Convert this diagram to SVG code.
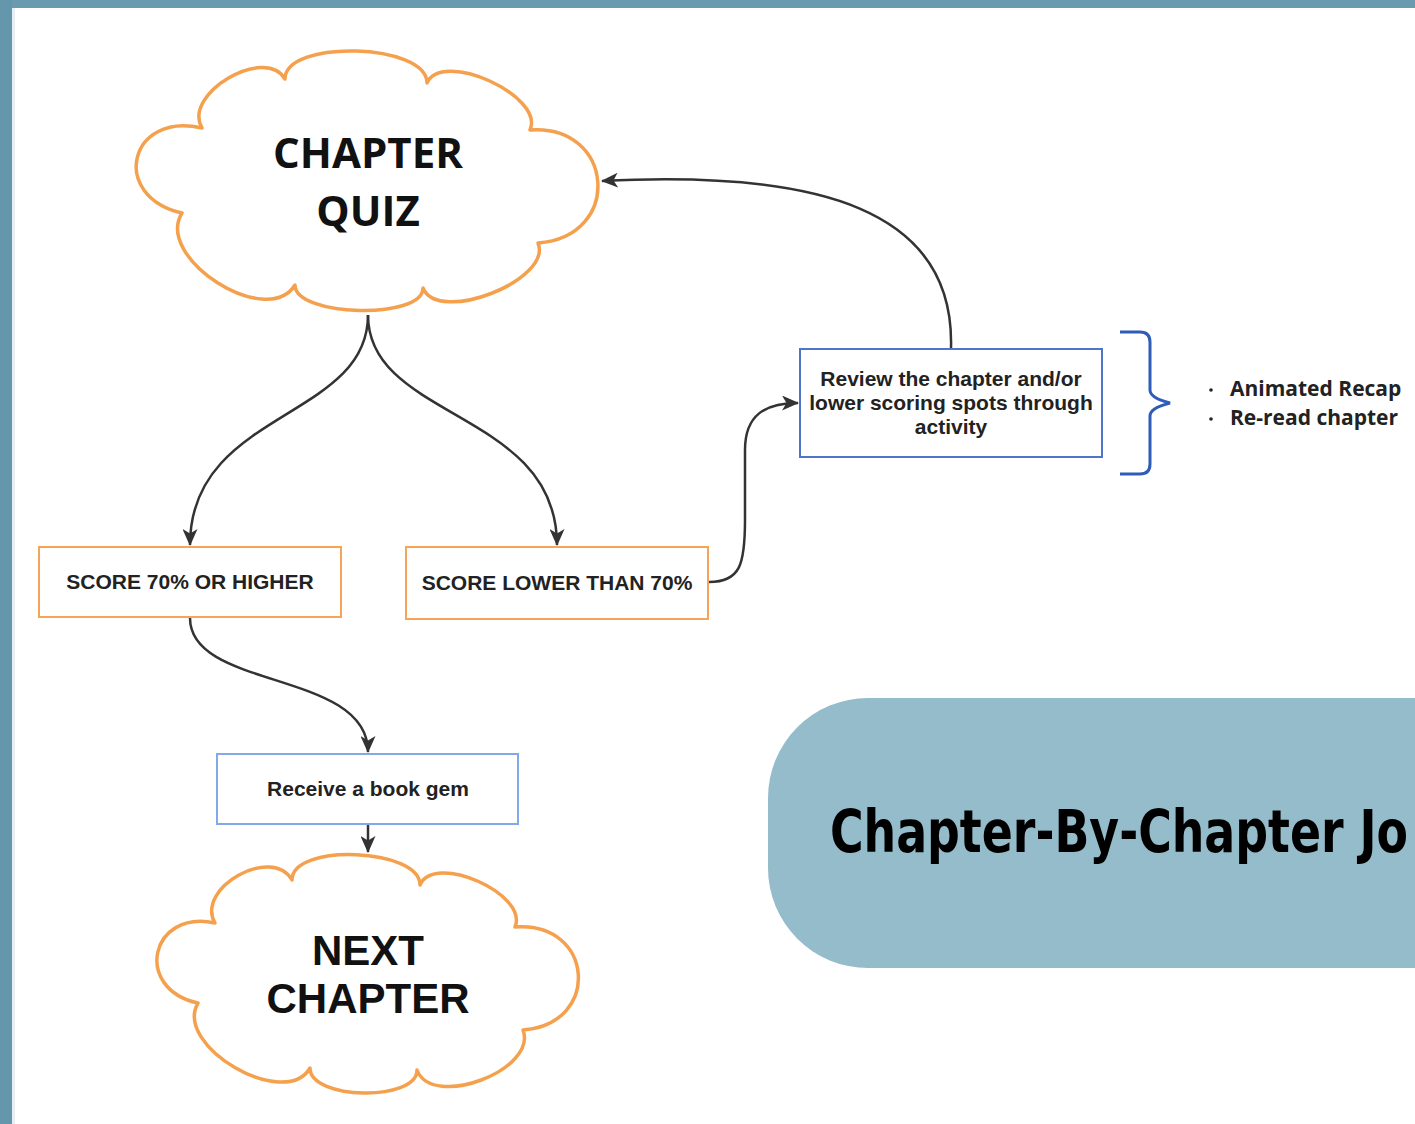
<svg xmlns="http://www.w3.org/2000/svg" width="1415" height="1124" viewBox="0 0 1415 1124">
<style>
.cloud{fill:#ffffff;stroke:#f5a04d;stroke-width:3.5;stroke-linejoin:round}
.obox{fill:#ffffff;stroke:#f5a55a;stroke-width:2}
.bbox{fill:#ffffff;stroke:#4f74c9;stroke-width:2}
.lbox{fill:#ffffff;stroke:#82a9e8;stroke-width:2}
.conn{fill:none;stroke:#333333;stroke-width:2.5}
.ct{font-family:"Open Sans","DejaVu Sans",sans-serif;font-weight:700;font-size:42px;fill:#111111;text-anchor:middle}
.ct2{font-family:"Liberation Sans",Arial,sans-serif;font-weight:700;font-size:42px;fill:#111111;text-anchor:middle}
.bt{font-family:"Liberation Sans",Arial,sans-serif;font-weight:700;font-size:21px;fill:#222222;text-anchor:middle}
.li{font-family:"Open Sans","DejaVu Sans",sans-serif;font-weight:700;font-size:21px;fill:#222222}
.title{font-family:"DejaVu Sans Condensed","DejaVu Sans",sans-serif;font-weight:700;font-size:58px;fill:#000000}
</style>
<defs>
<marker id="arr" markerUnits="userSpaceOnUse" markerWidth="17" markerHeight="15" viewBox="0 0 17 15" refX="16" refY="7.5" orient="auto">
<path d="M0,0 L17,7.5 L0,15 L4.5,7.5 z" fill="#333333"/>
</marker>
</defs>
<rect x="0" y="0" width="1415" height="1124" fill="#ffffff"/>
<rect x="0" y="0" width="1415" height="8" fill="#6a9ab0"/>
<rect x="0" y="0" width="12" height="1124" fill="#6496ac"/>
<rect x="12" y="8" width="3" height="1116" fill="#e8eef1"/>

<g id="title-banner">
<rect x="768" y="698" width="760" height="270" rx="100" ry="100" fill="#95bccb"/>
<text class="title" x="830" y="852" textLength="578" lengthAdjust="spacingAndGlyphs">Chapter-By-Chapter Jo</text>
</g>

<g id="connectors">
<path class="conn" d="M368,315 C368,420 190,410 190,545" marker-end="url(#arr)"/>
<path class="conn" d="M368,315 C368,420 557,410 557,545" marker-end="url(#arr)"/>
<path class="conn" d="M709,582 C740,582 745,565 745,520 L745,450 C745,415 765,403 798,403" marker-end="url(#arr)"/>
<path class="conn" d="M951,348 C955,210 820,170 602,181" marker-end="url(#arr)"/>
<path class="conn" d="M190,618 C190,690 368,670 368,752" marker-end="url(#arr)"/>
<path class="conn" d="M368,825 L368,852" marker-end="url(#arr)"/>
</g>

<g id="chapter-quiz">
<path class="cloud" d="M285,79 C285,39 427,43 427,83 C442,49 545,96 530,130 C615,124 623,237 538,243 C553,280 438,325 423,288 C423,320 295,317 295,285 C267,330 154,258 182,213 C109,196 129,111 202,128 C182,94 265,45 285,79 Z"/>
<text class="ct" x="368" y="168">CHAPTER</text>
<text class="ct" x="368" y="226">QUIZ</text>
</g>

<g id="score-high">
<rect class="obox" x="39" y="547" width="302" height="70"/>
<text class="bt" x="190" y="589" font-size="21.5">SCORE 70% OR HIGHER</text>
</g>

<g id="score-low">
<rect class="obox" x="406" y="547" width="302" height="72"/>
<text class="bt" x="557" y="590" font-size="21.5">SCORE LOWER THAN 70%</text>
</g>

<g id="review">
<rect class="bbox" x="800" y="349" width="302" height="108"/>
<text class="bt" x="951" y="386">Review the chapter and/or</text>
<text class="bt" x="951" y="410">lower scoring spots through</text>
<text class="bt" x="951" y="434">activity</text>
</g>

<g id="options">
<path d="M1120,332 L1140,332 Q1150,332 1150,342 L1150,390 Q1150,398 1170,403 Q1150,408 1150,416 L1150,464 Q1150,474 1140,474 L1120,474" fill="none" stroke="#2e5cb8" stroke-width="3"/>
<circle cx="1211" cy="390" r="1.8" fill="#222222"/>
<circle cx="1211" cy="419" r="1.8" fill="#222222"/>
<text class="li" x="1230" y="396">Animated Recap</text>
<text class="li" x="1230" y="425">Re-read chapter</text>
</g>

<g id="receive-gem">
<rect class="lbox" x="217" y="754" width="301" height="70"/>
<text class="bt" x="368" y="796">Receive a book gem</text>
</g>

<g id="next-chapter">
<path class="cloud" d="M292,880 C292,843 420,848 420,885 C434,852 529,894 515,927 C594,921 602,1024 523,1030 C538,1070 432,1110 417,1070 C417,1102 310,1100 310,1068 C285,1111 173,1046 198,1003 C133,989 150,909 215,923 C195,888 272,845 292,880 Z"/>
<text class="ct2" x="368" y="965">NEXT</text>
<text class="ct2" x="368" y="1013">CHAPTER</text>
</g>
</svg>
